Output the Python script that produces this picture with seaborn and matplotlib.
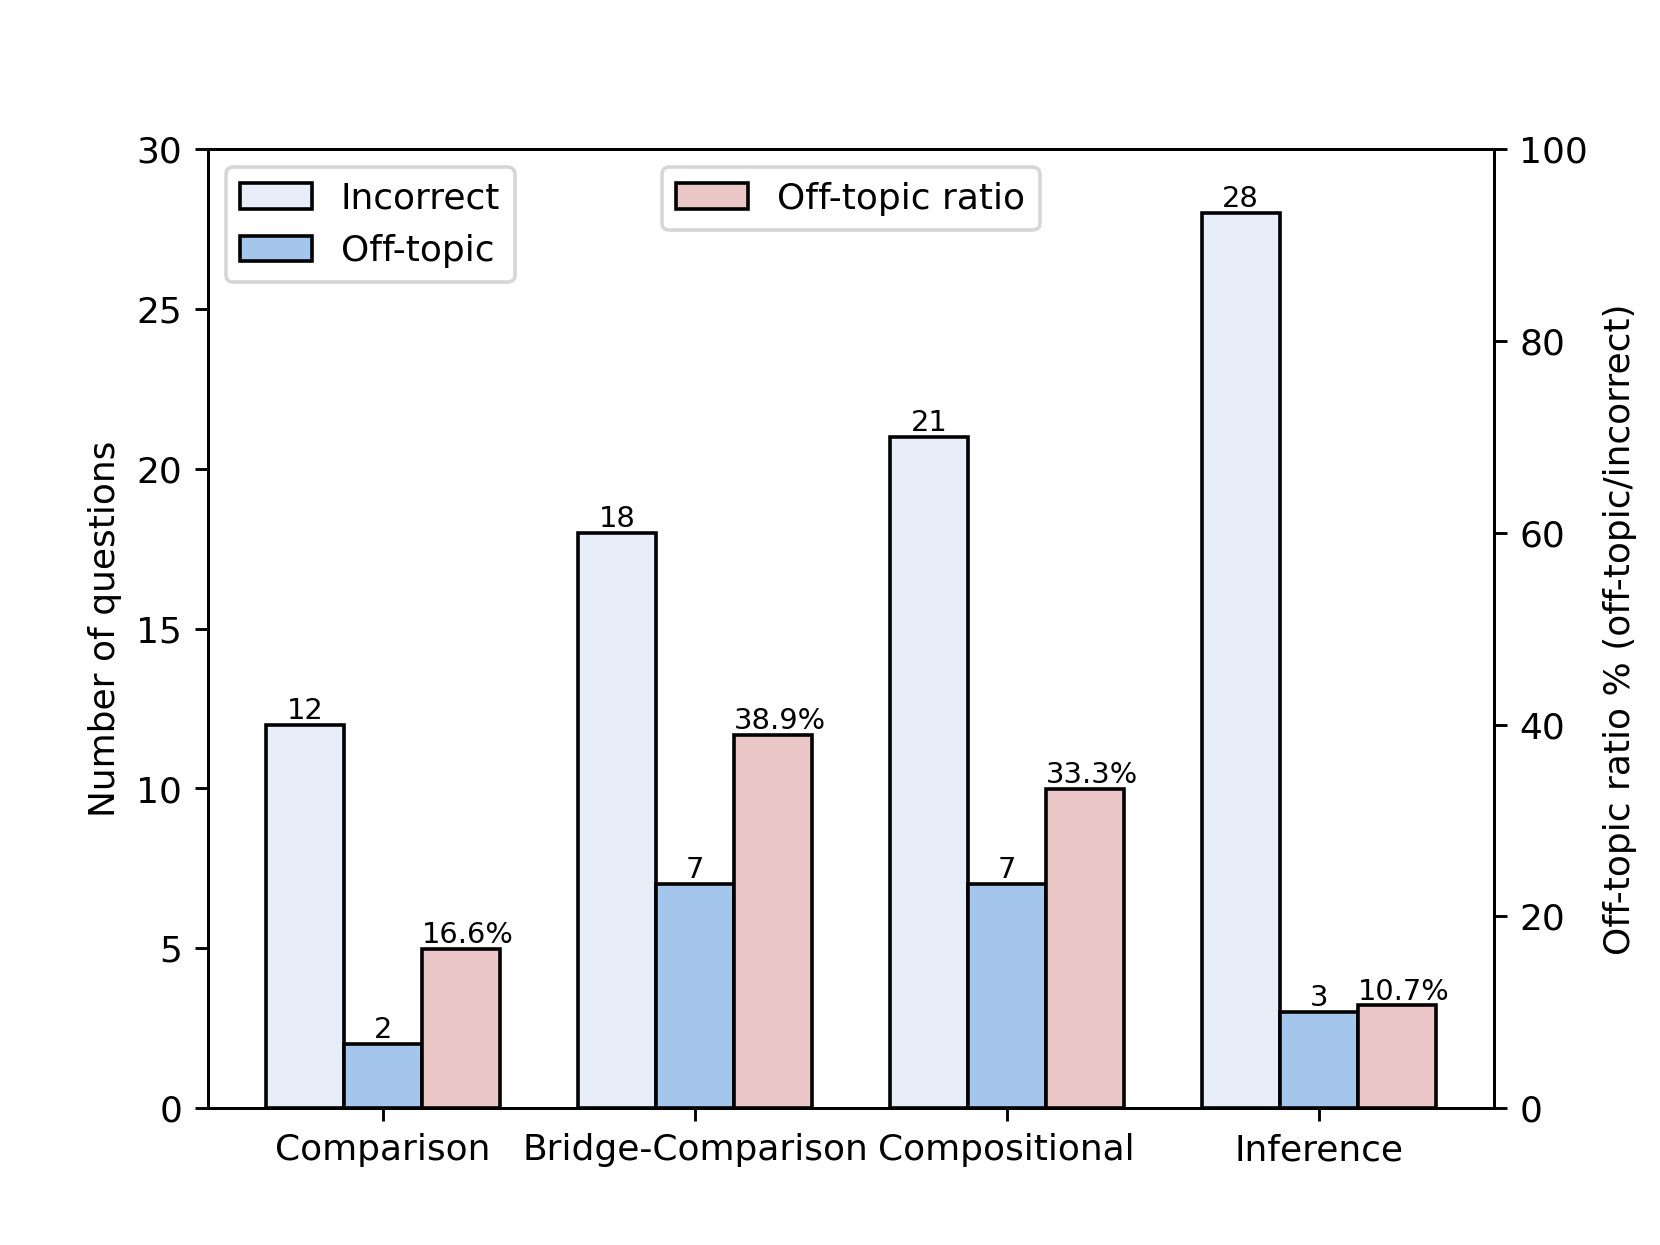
import numpy as np
import pandas as pd
import matplotlib
matplotlib.use("Agg")
import matplotlib.pyplot as plt
from matplotlib.container import BarContainer
import seaborn as sns

categories = ["Comparison", "Bridge-Comparison", "Compositional", "Inference"]
incorrect = [12, 18, 21, 28]
off_topic = [2, 7, 7, 3]
ratio = [16.6, 38.9, 33.3, 10.7]
ratio_labels = ["16.6%", "38.9%", "33.3%", "10.7%"]

levels = ["Incorrect", "Off-topic", "Off-topic ratio"]
colors = {"Incorrect": "#e7eef9", "Off-topic": "#a5c6ec", "Off-topic ratio": "#ecc7c7"}

left = pd.DataFrame({
    "category": categories * 2,
    "value": incorrect + off_topic,
    "series": ["Incorrect"] * 4 + ["Off-topic"] * 4,
})
right = pd.DataFrame({
    "category": categories,
    "value": ratio,
    "series": ["Off-topic ratio"] * 4,
})

fig, ax = plt.subplots(figsize=(6.4, 4.8), dpi=259.4)
ax2 = ax.twinx()

sns.barplot(data=left, x="category", y="value", hue="series", hue_order=levels,
            order=categories, palette=colors, saturation=1, width=0.75, dodge=True,
            edgecolor="black", linewidth=1.0, errorbar=None, legend=False, ax=ax)
sns.barplot(data=right, x="category", y="value", hue="series", hue_order=levels,
            order=categories, palette=colors, saturation=1, width=0.75, dodge=True,
            edgecolor="black", linewidth=1.0, errorbar=None, legend=False, ax=ax2)


def bar_groups(axis):
    return [c for c in axis.containers
            if isinstance(c, BarContainer) and len(c.patches) > 0
            and all(p is not None for p in c.patches)]


left_bars = bar_groups(ax)
right_bars = bar_groups(ax2)

ax.bar_label(left_bars[0], labels=[str(v) for v in incorrect], fontsize=8)
ax.bar_label(left_bars[1], labels=[str(v) for v in off_topic], fontsize=8)
# ratio labels start at the left edge of each bar
for patch, lab in zip(right_bars[0].patches, ratio_labels):
    ax2.annotate(lab, (patch.get_x(), patch.get_height()), ha="left", va="bottom",
                 fontsize=8)

ax.set_ylim(0, 30)
ax2.set_ylim(0, 100)
ax.set_xlim(-0.5625, 3.5625)
ax2.set_xlim(-0.5625, 3.5625)
ax.set_xlabel("")
ax2.set_xlabel("")
ax.set_ylabel("Number of questions")
ax2.set_ylabel("Off-topic ratio % (off-topic/incorrect)")

ax.legend([left_bars[0], left_bars[1]], ["Incorrect", "Off-topic"], loc="upper left")
ax2.legend([right_bars[0]], ["Off-topic ratio"], loc="upper center")

fig.savefig("out.png", dpi=259.4)
